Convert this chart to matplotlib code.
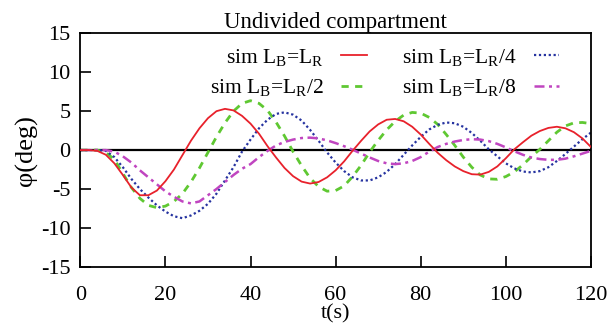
import matplotlib
matplotlib.use("Agg")
import matplotlib.pyplot as plt
import numpy as np

plt.rcParams['font.family'] = ['Liberation Serif', 'DejaVu Serif']
plt.rcParams['mathtext.fontset'] = 'custom'
plt.rcParams['mathtext.rm'] = 'Liberation Serif'
plt.rcParams['mathtext.it'] = 'Liberation Serif:italic'
plt.rcParams['axes.unicode_minus'] = False

# time samples (s)
t = np.arange(0, 121, 2)

# phi (deg), one value every 2 s
phi_LR = [0, 0, -0.1, -0.6, -1.7, -3.2, -4.8, -5.8, -5.8, -5.2, -4.0, -2.5, -0.65,
          1.2, 2.8, 4.1, 5.0, 5.3, 5.1, 4.4, 3.4, 2.1, 0.5,
          -0.95, -2.3, -3.35, -4.05, -4.3, -4.1, -3.5, -2.6, -1.45, -0.08,
          1.2, 2.4, 3.3, 3.9, 4.0, 3.7, 3.0, 2.0, 0.8,
          -0.35, -1.3, -2.1, -2.7, -3.1, -3.15, -2.8, -2.1, -1.05,
          0.1, 1.0, 1.85, 2.45, 2.85, 3.0, 2.8, 2.3, 1.5, 0.4]
phi_LR2 = [0, 0, 0, -0.3, -1.2, -3.0, -4.8, -6.2, -7.1, -7.4, -7.2, -6.6, -5.6,
           -4.1, -2.3, -0.3, 1.7, 3.5, 5.0, 6.0, 6.35, 6.0, 5.1, 3.6, 1.8,
           -0.2, -2.0, -3.6, -4.7, -5.28, -5.2, -4.6, -3.4, -1.95, -0.25,
           1.25, 2.6, 3.7, 4.5, 4.84, 4.75, 4.2, 3.3, 2.0, 0.6,
           -0.9, -2.2, -3.2, -3.7, -3.75, -3.4, -2.8, -1.9, -0.85,
           0.1, 1.2, 2.3, 3.1, 3.5, 3.55, 3.4]
phi_LR4 = [0, 0, 0, -0.1, -0.9, -2.2, -3.7, -5.0, -6.1, -7.1, -7.9, -8.5, -8.75,
           -8.4, -7.8, -6.9, -5.6, -3.9, -2.2, -0.2,
           1.35, 2.8, 3.9, 4.65, 4.85, 4.55, 3.8, 2.6, 1.2,
           -0.3, -1.6, -2.7, -3.5, -3.9, -3.9, -3.5, -2.8, -1.8, -0.6,
           0.6, 1.7, 2.65, 3.25, 3.55, 3.45, 3.0, 2.2, 1.2, 0.1,
           -0.8, -1.7, -2.35, -2.75, -2.87, -2.7, -2.2, -1.4, -0.5,
           0.45, 1.4, 2.25]
phi_LR8 = [0, 0, 0, 0, -0.2, -0.8, -1.6, -2.6, -3.5, -4.4, -5.3, -6.0, -6.6,
           -6.85, -6.6, -5.8, -5.0, -4.1, -3.2, -2.4, -1.8, -0.9, -0.1,
           0.6, 1.05, 1.35, 1.55, 1.6, 1.5, 1.25, 0.9, 0.5, 0.05,
           -0.45, -0.95, -1.4, -1.7, -1.8, -1.7, -1.4, -0.9, -0.2,
           0.4, 0.8, 1.1, 1.3, 1.4, 1.35, 1.15, 0.8, 0.35,
           -0.15, -0.6, -0.95, -1.15, -1.25, -1.25, -1.1, -0.8, -0.45, -0.1]

labels = [r"sim L$_\mathrm{B}$=L$_\mathrm{R}$", r"sim L$_\mathrm{B}$=L$_\mathrm{R}$/2",
          r"sim L$_\mathrm{B}$=L$_\mathrm{R}$/4", r"sim L$_\mathrm{B}$=L$_\mathrm{R}$/8"]

fig = plt.figure(figsize=(6.13, 3.27), dpi=100)
ax = fig.add_axes([0.131, 0.184, 0.833, 0.714])

ax.axhline(0, color="black", lw=1.6, zorder=1)
ax.plot(t, phi_LR, "-", color="#e8212b", lw=1.3, label=labels[0], zorder=3)
ax.plot(t, phi_LR2, "--", color="#5fc832", lw=2.0, dashes=(2.6, 2.3), label=labels[1], zorder=2)
ax.plot(t, phi_LR4, ":", color="#2633a0", lw=1.6, dashes=(1, 1.2), label=labels[2], zorder=2)
ax.plot(t, phi_LR8, "-.", color="#c045c0", lw=1.8, dashes=(4, 1.8, 1.2, 1.8), label=labels[3], zorder=2)

ax.set_xlim(0, 120)
ax.set_ylim(-15, 15)
ax.set_xticks([0, 20, 40, 60, 80, 100, 120])
ax.set_yticks([-15, -10, -5, 0, 5, 10, 15])
ax.tick_params(direction="in", length=8, width=1.2, labelsize=16, top=False, right=False)
ax.tick_params(axis="x", pad=14)
ax.tick_params(axis="y", pad=7)
for s in ax.spines.values():
    s.set_linewidth(1.3)

ax.set_title("Undivided compartment", fontsize=16.5, pad=3)
ax.set_xlabel("t(s)", fontsize=16, labelpad=-1)
ax.set_ylabel("φ(deg)", fontsize=19, labelpad=2)

ax.legend(loc="upper right", ncol=2, frameon=False, markerfirst=False, fontsize=15.5,
          handlelength=1.2, columnspacing=1.6, labelspacing=0.45, handletextpad=0.8,
          borderaxespad=0.0, bbox_to_anchor=(0.955, 0.98))

fig.savefig("out.png", dpi=100)
